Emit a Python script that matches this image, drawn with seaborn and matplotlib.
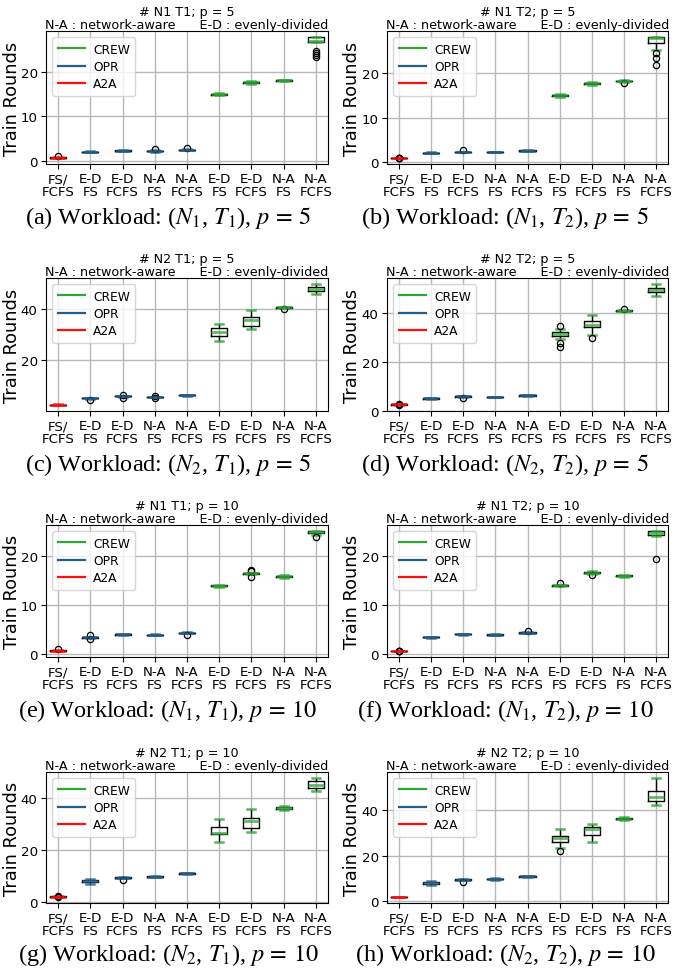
import matplotlib
matplotlib.use("Agg")
import matplotlib.pyplot as plt
from matplotlib.lines import Line2D
from matplotlib.ticker import MultipleLocator
import seaborn as sns
import pandas as pd

plt.rcParams['font.family'] = 'DejaVu Sans'
plt.rcParams['mathtext.fontset'] = 'stix'

# x categories (one box each) and the scheme that produced it
tick_labels = ['FS/\nFCFS', 'E-D\nFS', 'E-D\nFCFS', 'N-A\nFS', 'N-A\nFCFS',
               'E-D\nFS', 'E-D\nFCFS', 'N-A\nFS', 'N-A\nFCFS']
box_series = ['A2A', 'OPR', 'OPR', 'OPR', 'OPR', 'CREW', 'CREW', 'CREW', 'CREW']
series_colors = {'CREW': '#2fa536', 'OPR': '#245f88', 'A2A': '#ff1010'}

# train rounds per run, one list per box
n1_t1_p5 = [
    [0.6, 0.65, 0.65, 0.7, 0.7, 0.7, 0.75, 0.75, 0.95],
    [1.85, 1.9, 1.95, 2.0, 2.0, 2.0, 2.05, 2.1, 2.15],
    [2.1, 2.15, 2.2, 2.2, 2.25, 2.25, 2.3, 2.3, 2.35],
    [2.05, 2.1, 2.15, 2.2, 2.2, 2.2, 2.25, 2.3, 2.55],
    [2.3, 2.35, 2.4, 2.45, 2.45, 2.45, 2.5, 2.55, 2.8],
    [14.8, 14.85, 14.9, 15.0, 15.0, 15.0, 15.1, 15.1, 15.2],
    [17.4, 17.5, 17.6, 17.7, 17.7, 17.7, 17.8, 17.9, 18.0],
    [17.9, 18.0, 18.05, 18.1, 18.1, 18.15, 18.2, 18.2, 18.3],
    [23.3, 23.8, 24.3, 24.8, 26.8, 26.9, 26.9, 27.0, 27.0, 27.1, 27.3, 27.5,
     27.8, 27.8, 27.8, 27.9, 27.9],
]
n1_t2_p5 = [
    [0.85, 0.85, 0.9, 0.9, 0.9, 0.9, 0.9, 0.95, 0.95],
    [1.9, 1.95, 1.95, 2.0, 2.0, 2.0, 2.05, 2.05, 2.1],
    [2.1, 2.15, 2.2, 2.25, 2.25, 2.25, 2.3, 2.3, 2.55],
    [2.1, 2.15, 2.15, 2.2, 2.2, 2.2, 2.25, 2.25, 2.3],
    [2.4, 2.45, 2.45, 2.5, 2.5, 2.5, 2.55, 2.55, 2.6],
    [14.7, 14.8, 14.9, 15.0, 15.0, 15.0, 15.1, 15.2, 15.3],
    [17.4, 17.5, 17.6, 17.7, 17.7, 17.8, 17.9, 17.9, 18.0],
    [17.8, 18.1, 18.15, 18.2, 18.2, 18.25, 18.3, 18.35, 18.4],
    [21.9, 23.5, 24.7, 25.3, 26.9, 27.2, 27.5, 27.8, 27.9, 28.0, 28.0, 28.1,
     28.1, 28.1, 28.2, 28.2, 28.2],
]
n2_t1_p5 = [
    [2.4, 2.45, 2.45, 2.5, 2.5, 2.5, 2.55, 2.55, 2.6],
    [4.3, 4.9, 4.95, 5.0, 5.0, 5.05, 5.1, 5.1, 5.2],
    [5.3, 5.7, 5.75, 5.8, 5.8, 5.85, 5.9, 5.9, 6.3],
    [5.2, 5.5, 5.55, 5.6, 5.6, 5.65, 5.7, 5.7, 6.05],
    [6.1, 6.15, 6.15, 6.2, 6.2, 6.2, 6.25, 6.25, 6.3],
    [27.7, 28.5, 29.3, 30.2, 31.0, 31.8, 32.6, 33.5, 34.3],
    [32.1, 32.8, 33.4, 34.5, 35.6, 36.2, 36.8, 38.0, 39.6],
    [40.0, 40.5, 40.6, 40.65, 40.7, 40.75, 40.8, 40.9, 41.0],
    [45.8, 46.5, 47.1, 47.5, 47.9, 48.3, 48.8, 49.3, 49.9],
]
n2_t2_p5 = [
    [2.3, 2.4, 2.45, 2.5, 2.5, 2.5, 2.55, 2.6, 2.8],
    [4.9, 4.95, 4.95, 5.0, 5.0, 5.0, 5.05, 5.05, 5.1],
    [5.3, 5.7, 5.75, 5.8, 5.8, 5.8, 5.85, 5.9, 5.95],
    [5.5, 5.55, 5.55, 5.6, 5.6, 5.6, 5.65, 5.65, 5.7],
    [6.1, 6.15, 6.15, 6.2, 6.2, 6.2, 6.25, 6.25, 6.3],
    [26.3, 27.9, 29.5, 30.0, 30.6, 30.8, 31.0, 31.2, 31.4, 31.6, 31.8, 32.0,
     32.2, 32.6, 33.0, 33.6, 34.8],
    [29.8, 31.1, 34.2, 34.8, 35.3, 36.0, 36.7, 38.0, 39.2],
    [40.8, 40.95, 41.0, 41.05, 41.1, 41.1, 41.15, 41.2, 41.7],
    [47.0, 47.8, 48.6, 49.1, 49.5, 49.8, 50.2, 51.0, 52.0],
]
n1_t1_p10 = [
    [0.6, 0.65, 0.65, 0.7, 0.7, 0.7, 0.75, 0.75, 0.95],
    [3.1, 3.35, 3.35, 3.4, 3.4, 3.4, 3.45, 3.45, 3.8],
    [3.9, 3.95, 3.95, 4.0, 4.0, 4.0, 4.05, 4.05, 4.1],
    [3.8, 3.85, 3.85, 3.9, 3.9, 3.9, 3.95, 3.95, 4.0],
    [3.9, 4.2, 4.25, 4.3, 4.3, 4.3, 4.35, 4.4, 4.45],
    [13.8, 13.85, 13.9, 14.0, 14.0, 14.0, 14.1, 14.15, 14.2],
    [15.8, 16.3, 16.4, 16.45, 16.5, 16.55, 16.6, 17.0, 17.3],
    [15.6, 15.7, 15.8, 15.85, 15.9, 15.95, 16.0, 16.1, 16.2],
    [23.9, 24.4, 24.7, 24.8, 24.9, 25.0, 25.1, 25.1, 25.2],
]
n1_t2_p10 = [
    [0.55, 0.55, 0.6, 0.6, 0.6, 0.6, 0.6, 0.65, 0.65],
    [3.3, 3.35, 3.35, 3.4, 3.4, 3.4, 3.45, 3.45, 3.5],
    [3.9, 3.95, 3.95, 4.0, 4.0, 4.0, 4.05, 4.05, 4.1],
    [3.8, 3.85, 3.85, 3.9, 3.9, 3.9, 3.95, 3.95, 4.0],
    [4.2, 4.25, 4.25, 4.3, 4.3, 4.3, 4.35, 4.35, 4.7],
    [13.8, 13.85, 13.9, 13.95, 14.0, 14.0, 14.05, 14.1, 14.45],
    [16.2, 16.4, 16.5, 16.55, 16.6, 16.65, 16.7, 16.8, 17.0],
    [15.7, 15.8, 15.85, 15.9, 15.9, 15.95, 16.0, 16.0, 16.1],
    [19.4, 24.1, 24.2, 24.4, 24.6, 24.9, 25.1, 25.1, 25.1],
]
n2_t1_p10 = [
    [1.8, 1.9, 1.95, 2.0, 2.0, 2.0, 2.05, 2.1, 2.3],
    [7.0, 7.3, 7.6, 7.8, 8.0, 8.2, 8.4, 8.6, 8.8],
    [8.3, 9.0, 9.15, 9.25, 9.3, 9.35, 9.45, 9.5, 9.6],
    [9.4, 9.5, 9.6, 9.65, 9.7, 9.75, 9.8, 9.9, 10.0],
    [10.6, 10.7, 10.8, 10.85, 10.9, 10.95, 11.0, 11.1, 11.2],
    [22.8, 24.5, 25.9, 26.2, 26.6, 27.8, 28.9, 30.3, 31.8],
    [27.0, 27.6, 28.3, 29.7, 31.1, 31.6, 32.2, 34.0, 35.8],
    [35.4, 35.6, 35.8, 35.95, 36.1, 36.2, 36.3, 36.5, 36.8],
    [42.7, 43.1, 43.6, 44.2, 44.8, 45.6, 46.5, 47.0, 47.6],
]
n2_t2_p10 = [
    [1.9, 1.95, 1.95, 2.0, 2.0, 2.0, 2.05, 2.05, 2.1],
    [7.3, 7.5, 7.7, 7.9, 8.2, 8.5, 8.7, 8.9, 9.0],
    [8.3, 9.2, 9.3, 9.4, 9.5, 9.55, 9.6, 9.7, 9.8],
    [9.5, 9.6, 9.7, 9.75, 9.8, 9.85, 9.9, 10.0, 10.1],
    [10.7, 10.8, 10.9, 10.95, 11.0, 11.05, 11.1, 11.2, 11.3],
    [22.0, 23.6, 26.2, 27.0, 27.8, 28.2, 28.6, 30.0, 31.6],
    [25.9, 27.5, 29.3, 30.5, 31.7, 32.1, 32.5, 33.3, 34.1],
    [35.7, 35.9, 36.0, 36.15, 36.3, 36.4, 36.5, 36.7, 36.9],
    [42.3, 43.2, 44.2, 45.0, 45.9, 47.2, 48.4, 51.0, 54.1],
]

panel_data = [n1_t1_p5, n1_t2_p5, n2_t1_p5, n2_t2_p5,
              n1_t1_p10, n1_t2_p10, n2_t1_p10, n2_t2_p10]
panel_titles = ['# N1 T1; p = 5', '# N1 T2; p = 5', '# N2 T1; p = 5', '# N2 T2; p = 5',
                '# N1 T1; p = 10', '# N1 T2; p = 10', '# N2 T1; p = 10', '# N2 T2; p = 10']
captions = [r'(a) Workload: ($N_1$, $T_1$), $p\,=\,5$',
            r'(b) Workload: ($N_1$, $T_2$), $p\,=\,5$',
            r'(c) Workload: ($N_2$, $T_1$), $p\,=\,5$',
            r'(d) Workload: ($N_2$, $T_2$), $p\,=\,5$',
            r'(e) Workload: ($N_1$, $T_1$), $p\,=\,10$',
            r'(f) Workload: ($N_1$, $T_2$), $p\,=\,10$',
            r'(g) Workload: ($N_2$, $T_1$), $p\,=\,10$',
            r'(h) Workload: ($N_2$, $T_2$), $p\,=\,10$']
tick_step = [10, 10, 20, 20, 10, 10, 20, 20]
subtitle = 'N-A : network-aware      E-D : evenly-divided'

W, H = 674, 979
fig = plt.figure(figsize=(W / 100, H / 100), dpi=100)

col_x = [(46, 328), (387, 668)]
row_y = [(32, 165), (279, 412), (526, 658), (773, 904)]
caption_y = [218, 465, 711, 955]
caption_x = [168, 505]
ylabel_right = [21, 361]

keys = ['c%d' % i for i in range(len(tick_labels))]

for i, boxes in enumerate(panel_data):
    r, c = divmod(i, 2)
    x0, x1 = col_x[c]
    y0, y1 = row_y[r]
    ax = fig.add_axes([x0 / W, 1 - y1 / H, (x1 - x0) / W, (y1 - y0) / H])

    rows = []
    for k, vals, s in zip(keys, boxes, box_series):
        for v in vals:
            rows.append({'box': k, 'rounds': v, 'scheme': s})
    df = pd.DataFrame(rows)

    sns.boxplot(data=df, x='box', y='rounds', hue='scheme', order=keys,
                hue_order=['A2A', 'OPR', 'CREW'], palette=series_colors,
                dodge=False, fill=False, width=0.5, legend=False, ax=ax,
                fliersize=4.5,
                boxprops={'color': 'black', 'linewidth': 1.0},
                whiskerprops={'color': 'black', 'linewidth': 1.0},
                capprops={'linewidth': 1.8, 'alpha': 0.8},
                medianprops={'linewidth': 2.0, 'alpha': 0.75},
                flierprops={'marker': 'o', 'markeredgecolor': 'black',
                            'markerfacecolor': 'none', 'markeredgewidth': 0.9})

    ax.set_xlim(-0.38, len(keys) - 1 + 0.38)
    ax.set_xticks(range(len(keys)))
    ax.set_xticklabels(tick_labels, fontsize=9.6, linespacing=1.0)
    ax.yaxis.set_major_locator(MultipleLocator(tick_step[i]))
    ax.tick_params(axis='y', labelsize=9.6, pad=2.5)
    ax.tick_params(axis='x', pad=2.5)
    ax.grid(True, color='#b8b8b8', linewidth=1.0)
    ax.set_axisbelow(True)
    ax.set_xlabel('')
    ax.set_ylabel('Train Rounds', fontsize=12.8)
    ax.yaxis.set_label_coords((ylabel_right[c] - x0) / (x1 - x0), 0.5)
    ax.set_title(panel_titles[i] + '\n' + subtitle, fontsize=9.2, pad=2.5,
                 linespacing=1.0)
    for sp in ax.spines.values():
        sp.set_color('black')

    handles = [Line2D([], [], color=series_colors[s], lw=1.6)
               for s in ['CREW', 'OPR', 'A2A']]
    ax.legend(handles, ['CREW', 'OPR', 'A2A'], loc='upper left', fontsize=8.8,
              handlelength=2.2, borderpad=0.45, labelspacing=0.35,
              handletextpad=0.7, framealpha=0.8)

    fig.text(caption_x[c] / W, 1 - caption_y[r] / H, captions[i],
             family='Liberation Serif', fontsize=17.5, ha='center', va='center')

fig.savefig('out.png', dpi=100, facecolor='white')
